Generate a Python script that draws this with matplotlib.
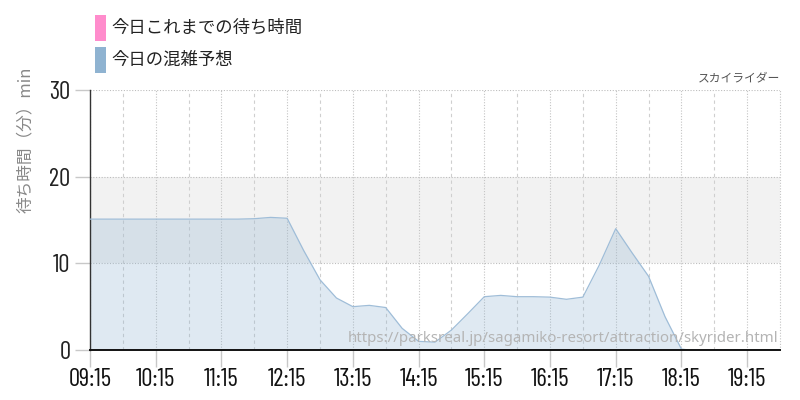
import matplotlib
matplotlib.use("Agg")
import matplotlib.pyplot as plt
from matplotlib.patches import Rectangle
from matplotlib import font_manager

# ---- data ----
times = ["09:15", "09:30", "09:45", "10:00", "10:15", "10:30", "10:45", "11:00",
         "11:15", "11:30", "11:45", "12:00", "12:15", "12:30", "12:45", "13:00",
         "13:15", "13:30", "13:45", "14:00", "14:15", "14:30", "14:45", "15:00",
         "15:15", "15:30", "15:45", "16:00", "16:15", "16:30", "16:45", "17:00",
         "17:15", "17:30", "17:45", "18:00", "18:15", "18:30", "18:45", "19:00",
         "19:15", "19:30", "19:45"]
forecast = [15.1, 15.1, 15.1, 15.1, 15.1, 15.1, 15.1, 15.1,
            15.1, 15.1, 15.15, 15.3, 15.2, 11.5, 8.1, 6.0,
            5.0, 5.15, 4.9, 2.5, 1.0, 0.9, 2.3, 4.2,
            6.15, 6.3, 6.15, 6.15, 6.1, 5.85, 6.1, 9.8,
            14.0, 11.2, 8.5, 3.85, 0.1, -0.1, 0.0, 0.0,
            0.0, 0.0, 0.0]
today_actual = []  # no observations yet
tick_labels = ["09:15", "10:15", "11:15", "12:15", "13:15", "14:15",
               "15:15", "16:15", "17:15", "18:15", "19:15"]
half_hours = ["09:45", "10:45", "11:45", "12:45", "13:45", "14:45",
              "15:45", "16:45", "17:45", "18:45"]
yticks = [0, 10, 20, 30]
legend_labels = ["今日これまでの待ち時間", "今日の混雑予想"]
ride_name = "スカイライダー"
ylabel = "待ち時間（分）min"
url = "https://parksreal.jp/sagamiko-resort/attraction/skyrider.html"


def to_h(s):
    h, m = s.split(":")
    return int(h) + int(m) / 60.0


xs = [to_h(t) for t in times]

# fonts
avail = {f.name for f in font_manager.fontManager.ttflist}
narrow = "DejaVu Sans"
for cand in ["Barlow Condensed", "Roboto Condensed", "Asap Condensed", "Archivo Narrow"]:
    if cand in avail:
        narrow = cand
        break
jp = ["Noto Sans CJK JP", "DejaVu Sans"]

pink = "#ff8ccc"
blue = "#8fb3d1"

fig = plt.figure(figsize=(8, 4), dpi=100)
ax = fig.add_axes([90 / 800, 50 / 400, 690 / 800, 260 / 400])

x0, x1 = to_h("09:15"), to_h("19:45")
ax.set_xlim(x0, x1)
ax.set_ylim(0, 30)

# band 10-20
ax.axhspan(10, 20, color="#f2f2f2", zorder=0, lw=0)

# grid
for yv in [10, 20, 30]:
    ax.axhline(yv, color="#bdbdbd", ls=(0, (1, 1.5)), lw=0.8, zorder=1)
for t in tick_labels:
    ax.axvline(to_h(t), color="#c4c4c4", ls=(0, (1, 1.5)), lw=0.8, zorder=1)
for t in half_hours:
    ax.axvline(to_h(t), color="#cfcfcf", ls=(0, (3, 3)), lw=0.8, zorder=1)
ax.axvline(x1, color="#c4c4c4", ls=(0, (1, 1.5)), lw=0.8, zorder=1, clip_on=False)

# forecast area
ax.fill_between(xs, forecast, 0, color=blue, alpha=0.28, lw=0, zorder=2)
ax.plot(xs, forecast, color="#9fbdd8", lw=0.9, zorder=3)
ax.plot([], [], color=pink)  # today's actual (no data yet)

# spines
for s in ["top", "right"]:
    ax.spines[s].set_visible(False)
ax.spines["left"].set_color("#333333")
ax.spines["left"].set_linewidth(1.0)
ax.spines["bottom"].set_color("#111111")
ax.spines["bottom"].set_linewidth(1.4)
ax.spines["bottom"].set_zorder(5)

ax.set_yticks(yticks)
ax.set_yticklabels([str(v) for v in yticks], fontfamily=narrow, fontsize=18, color="#222222")
ax.set_xticks([to_h(t) for t in tick_labels])
ax.set_xticklabels(tick_labels, fontfamily=narrow, fontsize=18, color="#111111")
ax.tick_params(axis="y", length=11, width=1, color="#c8c8c8", pad=3)
ax.tick_params(axis="x", length=12, width=1, color="#c8c8c8", pad=1)

fig.text(25 / 800, 1 - 140 / 400, ylabel, rotation=90, ha="center", va="center",
         fontsize=12, color="#888888", family=jp)

# ride name
fig.text(780 / 800, 1 - 78 / 400, ride_name, ha="right", va="center",
         fontsize=8.5, color="#555555", family=jp)

# watermark
ax.text(0.997, 0.046, url, transform=ax.transAxes, ha="right", va="center",
        fontsize=10.8, color="#b4b4b4", family=["Noto Sans", "DejaVu Sans"], zorder=6)

# legend (manual)
for i, (lab, col) in enumerate(zip(legend_labels, [pink, blue])):
    top = 15 + 32 * i
    fig.patches.append(Rectangle((95 / 800, 1 - (top + 26) / 400), 11 / 800, 26 / 400,
                                 transform=fig.transFigure, facecolor=col, edgecolor="none"))
    fig.text(111 / 800, 1 - (top + 13) / 400, lab, ha="left", va="center",
             fontsize=12.5, color="#222222", family=jp)

fig.savefig("out.png", dpi=100)
